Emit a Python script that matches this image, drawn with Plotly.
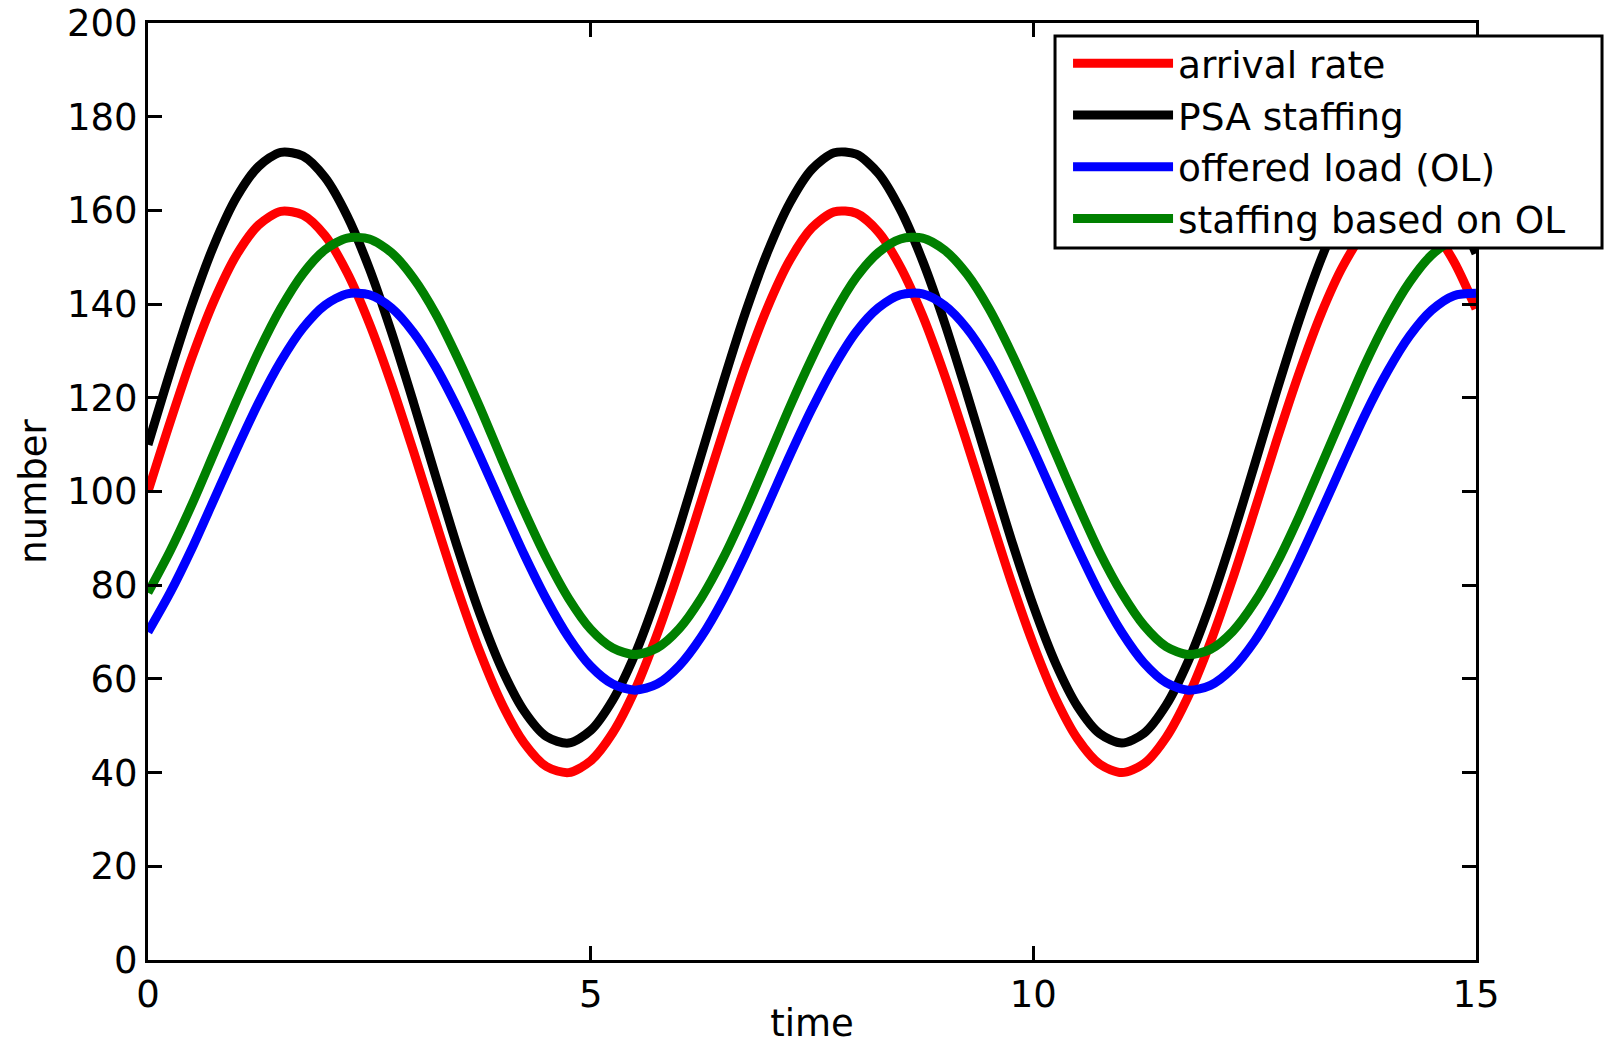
import plotly.graph_objects as go

time = [0.0, 0.25, 0.5, 0.75, 1.0, 1.25, 1.5, 1.75, 2.0, 2.25, 2.5, 2.75,
        3.0, 3.25, 3.5, 3.75, 4.0, 4.25, 4.5, 4.75, 5.0, 5.25, 5.5, 5.75,
        6.0, 6.25, 6.5, 6.75, 7.0, 7.25, 7.5, 7.75, 8.0, 8.25, 8.5, 8.75,
        9.0, 9.25, 9.5, 9.75, 10.0, 10.25, 10.5, 10.75, 11.0, 11.25, 11.5, 11.75,
        12.0, 12.25, 12.5, 12.75, 13.0, 13.25, 13.5, 13.75, 14.0, 14.25, 14.5, 14.75,
        15.0]

arrival_rate = [100.0, 114.8, 128.8, 140.9, 150.5, 156.9, 159.8, 159.0, 154.6, 146.7, 135.9, 122.9,
                108.5, 93.5, 78.9, 65.7, 54.6, 46.3, 41.3, 40.0, 42.5, 48.5, 57.6, 69.5,
                83.2, 98.0, 112.9, 127.0, 139.4, 149.4, 156.3, 159.7, 159.4, 155.4, 147.9, 137.5,
                124.7, 110.4, 95.5, 80.8, 67.4, 55.9, 47.2, 41.8, 40.0, 41.9, 47.5, 56.3,
                67.8, 81.3, 96.0, 111.0, 125.2, 137.9, 148.2, 155.6, 159.4, 159.6, 156.1, 149.1,
                139.0]

psa_staffing = [110.0, 125.5, 140.1, 152.8, 162.8, 169.4, 172.4, 171.6, 167.0, 158.8, 147.6, 134.0,
                118.9, 103.2, 87.8, 73.8, 62.0, 53.1, 47.7, 46.3, 49.0, 55.5, 65.2, 77.8,
                92.3, 107.9, 123.5, 138.3, 151.2, 161.6, 168.8, 172.3, 172.0, 167.9, 160.1, 149.2,
                135.9, 120.9, 105.3, 89.8, 75.6, 63.4, 54.1, 48.3, 46.3, 48.4, 54.4, 63.8,
                76.0, 90.3, 105.8, 121.5, 136.4, 149.6, 160.4, 168.1, 172.0, 172.2, 168.6, 161.3,
                150.8]

offered_load = [70.0, 78.4, 88.0, 98.5, 109.0, 119.0, 127.8, 134.9, 139.8, 142.2, 142.0, 139.2,
                133.9, 126.6, 117.6, 107.5, 96.9, 86.5, 77.0, 68.9, 62.7, 58.9, 57.6, 58.9,
                62.8, 69.0, 77.1, 86.7, 97.1, 107.7, 117.7, 126.7, 134.1, 139.2, 142.0, 142.2,
                139.7, 134.8, 127.7, 118.8, 108.9, 98.3, 87.9, 78.2, 69.9, 63.4, 59.2, 57.6,
                58.6, 62.2, 68.1, 76.0, 85.4, 95.7, 106.2, 116.5, 125.6, 133.2, 138.7, 141.8,
                142.3]

staffing_ol = [78.4, 87.3, 97.4, 108.4, 119.4, 129.9, 139.1, 146.5, 151.6, 154.1, 153.9, 151.0,
               145.5, 137.9, 128.4, 117.9, 106.7, 95.8, 85.8, 77.2, 70.6, 66.6, 65.2, 66.6,
               70.7, 77.3, 85.9, 96.0, 107.0, 118.1, 128.5, 138.0, 145.7, 151.0, 153.9, 154.1,
               151.5, 146.4, 139.0, 129.7, 119.3, 108.2, 97.3, 87.0, 78.3, 71.4, 66.9, 65.2,
               66.3, 70.1, 76.4, 84.7, 94.6, 105.5, 116.5, 127.3, 136.8, 144.7, 150.5, 153.7,
               154.2]

series_names = ["arrival rate", "PSA staffing", "offered load (OL)", "staffing based on OL"]
series_values = [arrival_rate, psa_staffing, offered_load, staffing_ol]
series_colors = ["#ff0000", "#000000", "#0000ff", "#008000"]

x_ticks = [0, 5, 10, 15]
y_ticks = [0, 20, 40, 60, 80, 100, 120, 140, 160, 180, 200]

FONT = "DejaVu Sans"
FS = 37

fig = go.Figure()
for i, (name, vals, col) in enumerate(zip(series_names, series_values, series_colors)):
    fig.add_trace(go.Scatter(
        x=time, y=vals, name=name, mode="lines",
        line=dict(color=col, width=9, shape="spline", smoothing=0.8),
        legendgroup=f"g{i}",
    ))

axis_common = dict(
    showline=True, linecolor="black", linewidth=3, mirror="ticks",
    ticks="inside", ticklen=14, tickwidth=3, tickcolor="black",
    showgrid=False, zeroline=False,
    tickfont=dict(family=FONT, size=FS, color="black"),
)

fig.update_xaxes(
    range=[0, 15], tickvals=x_ticks, ticktext=[str(v) for v in x_ticks],
    title=dict(text="time", font=dict(family=FONT, size=FS, color="black"), standoff=24),
    automargin="top",
    **axis_common,
)
fig.update_yaxes(
    range=[0, 200], tickvals=y_ticks, ticktext=[str(v) for v in y_ticks],
    title=dict(text="number", font=dict(family=FONT, size=FS, color="black"), standoff=10),
    automargin="right",
    **axis_common,
)

# legend frame (MATLAB-style box, wider than its entries)
fig.add_shape(
    type="rect", xref="paper", yref="paper",
    x0=0.683, x1=1.0949, y0=0.760, y1=0.986,
    line=dict(color="black", width=3), fillcolor="white", layer="above",
)

fig.update_layout(
    width=1604, height=1045,
    margin=dict(l=148, r=128, t=23, b=85, pad=0),
    paper_bgcolor="white", plot_bgcolor="white",
    font=dict(family=FONT, size=FS, color="black"),
    showlegend=True,
    legend=dict(
        x=0.6928, y=0.990, xanchor="left", yanchor="top",
        bgcolor="rgba(0,0,0,0)", borderwidth=0,
        font=dict(family=FONT, size=37.5, color="black"),
        itemwidth=100, tracegroupgap=0,
    ),
)

fig.write_html("out.html")
